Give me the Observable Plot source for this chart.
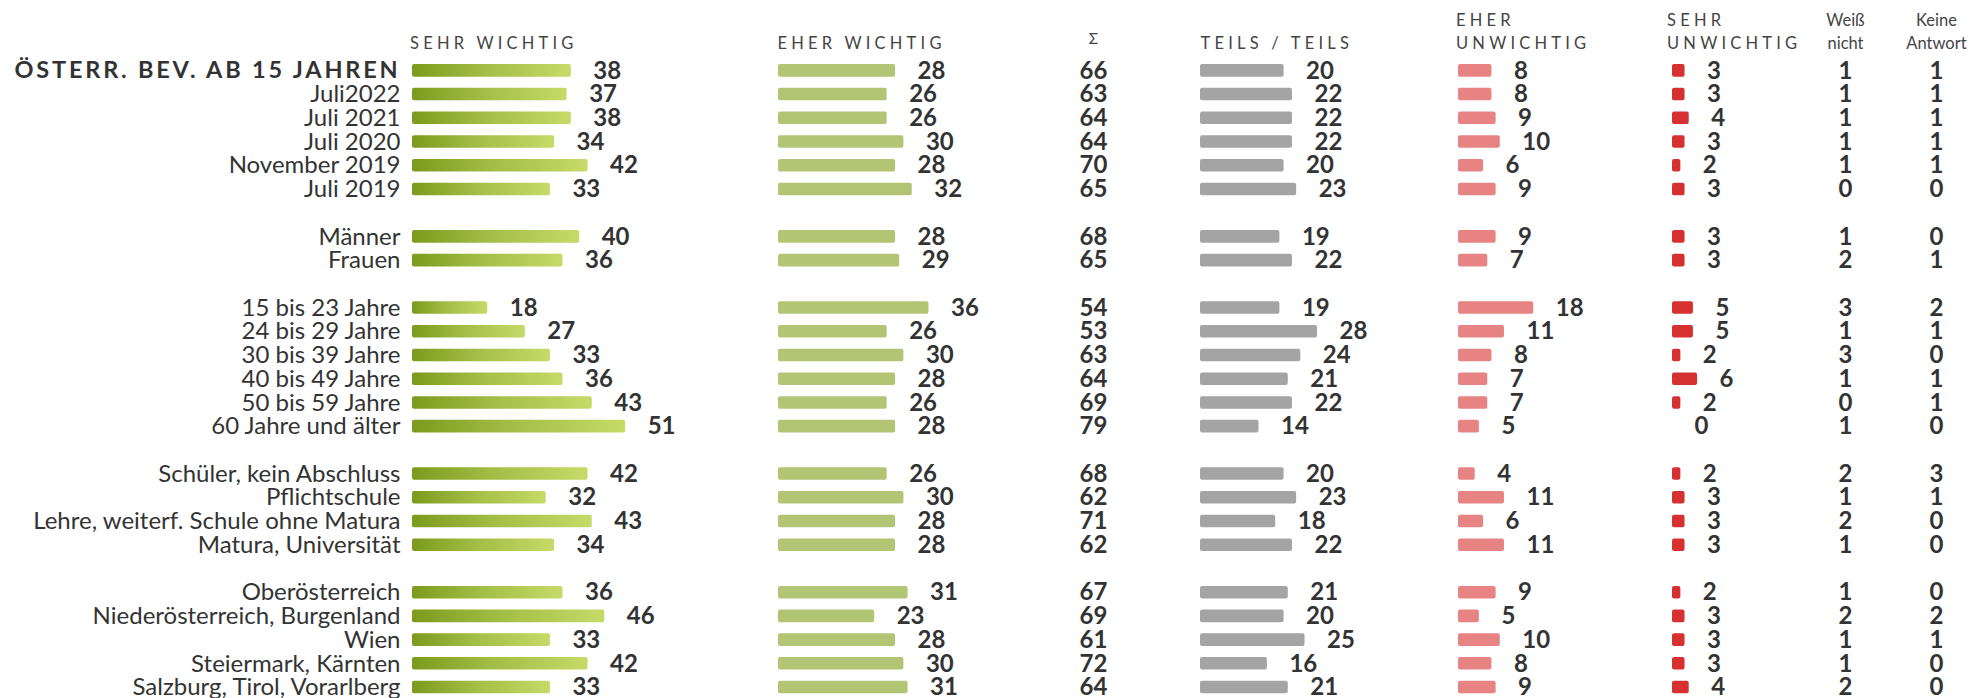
<!DOCTYPE html>
<html><head><meta charset="utf-8">
<script src="https://cdn.jsdelivr.net/npm/d3@7"></script>
<script src="https://cdn.jsdelivr.net/npm/@observablehq/plot@0.6"></script>
<style>
html,body{margin:0;padding:0;background:#fff;overflow:hidden;}
#chart{position:relative;width:1972px;height:698px;font-family:Lato,sans-serif;}
#chart svg{position:absolute;top:0;}
</style></head><body><div id="chart"></div>
<script>
// ---- data ----
const categories = [
  "ÖSTERR. BEV. AB 15 JAHREN", "Juli2022", "Juli 2021", "Juli 2020", "November 2019", "Juli 2019",
  "Männer", "Frauen",
  "15 bis 23 Jahre", "24 bis 29 Jahre", "30 bis 39 Jahre", "40 bis 49 Jahre", "50 bis 59 Jahre", "60 Jahre und älter",
  "Schüler, kein Abschluss", "Pflichtschule", "Lehre, weiterf. Schule ohne Matura", "Matura, Universität",
  "Oberösterreich", "Niederösterreich, Burgenland", "Wien", "Steiermark, Kärnten", "Salzburg, Tirol, Vorarlberg"
];
const groupSizes = [6, 2, 6, 4, 5];
const sehrWichtig   = [38,37,38,34,42,33, 40,36, 18,27,33,36,43,51, 42,32,43,34, 36,46,33,42,33];
const eherWichtig   = [28,26,26,30,28,32, 28,29, 36,26,30,28,26,28, 26,30,28,28, 31,23,28,30,31];
const summe         = [66,63,64,64,70,65, 68,65, 54,53,63,64,69,79, 68,62,71,62, 67,69,61,72,64];
const teilsTeils    = [20,22,22,22,20,23, 19,22, 19,28,24,21,22,14, 20,23,18,22, 21,20,25,16,21];
const eherUnwichtig = [8,8,9,10,6,9, 9,7, 18,11,8,7,7,5, 4,11,6,11, 9,5,10,8,9];
const sehrUnwichtig = [3,3,4,3,2,3, 3,3, 5,5,2,6,2,0, 2,3,3,3, 2,3,3,3,4];
const weissNicht    = [1,1,1,1,1,0, 1,2, 3,1,3,1,0,1, 2,1,2,1, 1,2,1,1,2];
const keineAntwort  = [1,1,1,1,1,0, 0,1, 2,1,0,1,1,0, 3,1,0,0, 0,2,1,0,0];
const headers = {
  sw: "SEHR WICHTIG", ew: "EHER WICHTIG", sum: "Σ", tt: "TEILS / TEILS",
  eu: "EHER\nUNWICHTIG", su: "SEHR\nUNWICHTIG", wn: "Weiß\nnicht", ka: "Keine\nAntwort"
};

// ---- rows with group gaps ----
const rows = [];
const slots = [];
let idx = 0;
groupSizes.forEach((n, g) => {
  if (g > 0) slots.push("gap" + g);
  for (let i = 0; i < n; i++) {
    rows.push({
      key: "r" + idx, first: idx === 0, label: categories[idx],
      sw: sehrWichtig[idx], ew: eherWichtig[idx], sum: summe[idx], tt: teilsTeils[idx],
      eu: eherUnwichtig[idx], su: sehrUnwichtig[idx], wn: weissNicht[idx], ka: keineAntwort[idx]
    });
    slots.push("r" + idx);
    idx++;
  }
});

const FONT = "Lato, sans-serif";
const TXT = "#333333";
const yOpt = () => ({type: "band", domain: slots, range: [58.5, 698.9], paddingInner: 0.47, paddingOuter: 0.235, round: false, axis: null});
const PX = 4.18; // pixels per percent
const chart = document.getElementById("chart");

function place(svg, left, spacedGroups) {
  svg.style.left = left + "px";
  const gs = svg.querySelectorAll(":scope > g[aria-label='text']");
  (spacedGroups || []).forEach(([i, ls]) => { if (gs[i]) gs[i].setAttribute("letter-spacing", ls); });
  chart.appendChild(svg);
  return svg;
}

// label column
place(Plot.plot({
  width: 400, height: 698, margin: 0,
  x: {domain: [0, 1], axis: null}, y: yOpt(),
  style: {background: "transparent", overflow: "visible", fontFamily: FONT},
  marks: [
    Plot.text(rows.filter(d => !d.first), {y: "key", text: "label", frameAnchor: "right", textAnchor: "end", fontSize: 24, fill: TXT, fontFamily: FONT}),
    Plot.text(rows.filter(d => d.first), {y: "key", text: "label", frameAnchor: "right", textAnchor: "end", fontSize: 23.5, fontWeight: "bold", fill: TXT, fontFamily: FONT})
  ]
}), 0, [[1, "2.8px"]]);

function barColumn(key, left, width, fill, headerDx) {
  const svg = Plot.plot({
    width, height: 698, margin: 0,
    x: {domain: [0, width / PX], range: [0, width], axis: null}, y: yOpt(),
    style: {background: "transparent", overflow: "visible", fontFamily: FONT},
    marks: [
      Plot.barX(rows, {y: "key", x1: 0, x2: key, fill, rx: 2}),
      Plot.text(rows, {y: "key", x: key, text: d => String(d[key]), dx: 22, textAnchor: "start", fontSize: 24, fontWeight: "bold", fill: TXT, fontFamily: FONT}),
      Plot.text([headers[key]], {text: d => d, frameAnchor: "top-left", dx: headerDx, dy: 48.5, lineAnchor: "bottom", lineHeight: 1.4, textAnchor: "start", fontSize: 16.5, fill: "#444", fontFamily: FONT})
    ]
  });
  return place(svg, left, [[1, "4.2px"]]);
}

function valueColumn(key, left, width, hdrSize, hdrDy) {
  const svg = Plot.plot({
    width, height: 698, margin: 0,
    x: {domain: [0, 1], axis: null}, y: yOpt(),
    style: {background: "transparent", overflow: "visible", fontFamily: FONT},
    marks: [
      Plot.text(rows, {y: "key", text: d => String(d[key]), frameAnchor: "middle", textAnchor: "middle", fontSize: 24, fontWeight: "bold", fill: TXT, fontFamily: FONT}),
      Plot.text([headers[key]], {text: d => d, frameAnchor: "top", dy: hdrDy, lineAnchor: "bottom", lineHeight: 1.4, textAnchor: "middle", fontSize: hdrSize, fill: "#444", fontFamily: FONT})
    ]
  });
  return place(svg, left, []);
}

const swSvg = barColumn("sw", 412, 366, "url(#swGrad)", -2.5);
barColumn("ew", 778, 250, "#b1c575", -1);
valueColumn("sum", 1040, 106, 15.5, 43);
barColumn("tt", 1200, 258, "#a4a4a4", 0);
barColumn("eu", 1458, 213, "#e88383", -2.5);
barColumn("su", 1671.5, 130, "#d63031", -5.5);
valueColumn("wn", 1805, 80, 16.5, 48.5);
valueColumn("ka", 1900, 72, 16.5, 48.5);

// gradient definition for the "sehr wichtig" bars
const ns = "http://www.w3.org/2000/svg";
const defs = document.createElementNS(ns, "defs");
const grad = document.createElementNS(ns, "linearGradient");
grad.setAttribute("id", "swGrad");
grad.setAttribute("x1", "0"); grad.setAttribute("x2", "1"); grad.setAttribute("y1", "0"); grad.setAttribute("y2", "0");
[["0%", "#7b9b1d"], ["45%", "#a2bd45"], ["100%", "#c6da68"]].forEach(([o, c]) => {
  const s = document.createElementNS(ns, "stop");
  s.setAttribute("offset", o); s.setAttribute("stop-color", c);
  grad.appendChild(s);
});
defs.appendChild(grad);
swSvg.insertBefore(defs, swSvg.firstChild);
</script></body></html>
